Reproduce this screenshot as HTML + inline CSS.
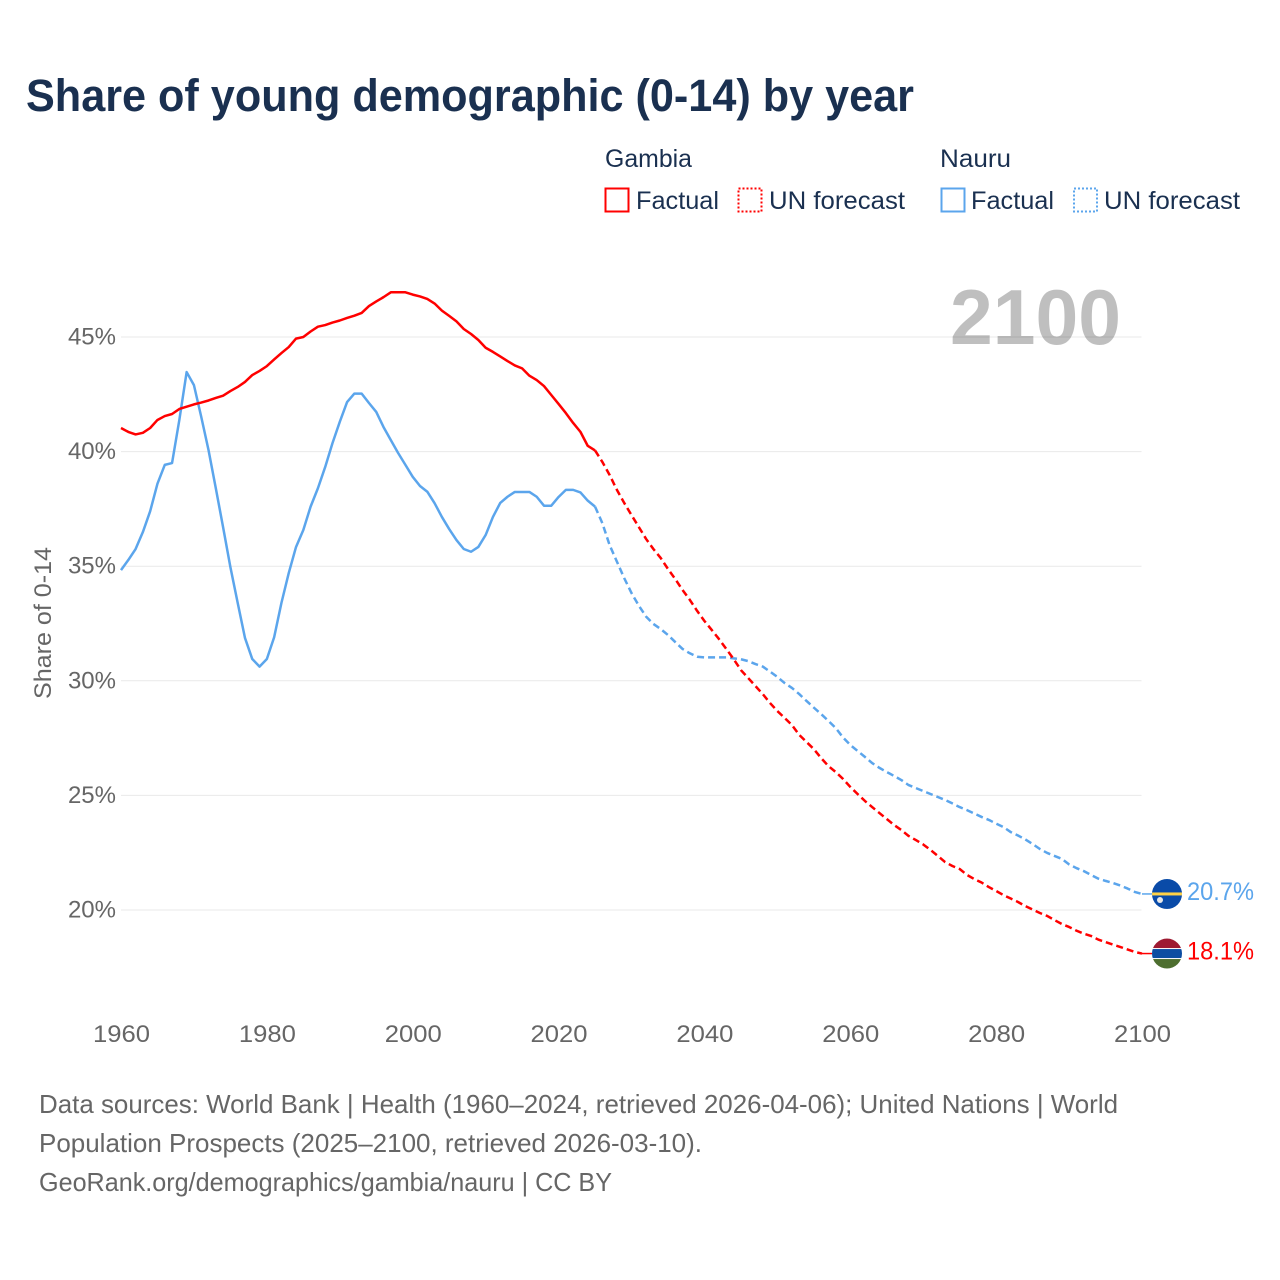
<!DOCTYPE html>
<html lang="en">
<head>
<meta charset="utf-8">
<title>Share of young demographic (0-14) by year</title>
<style>
html,body{margin:0;padding:0;background:#fff;}
svg{display:block;font-family:"Liberation Sans",sans-serif;}
</style>
</head>
<body>
<svg id="chart" width="1280" height="1280" viewBox="0 0 1280 1280" xmlns="http://www.w3.org/2000/svg">
  <rect x="0" y="0" width="1280" height="1280" fill="#fff"/>
  <text x="26" y="111" font-size="45" font-weight="700" fill="#1a3050" textLength="888" lengthAdjust="spacingAndGlyphs">Share of young demographic (0-14) by year</text>

  <g font-size="25" fill="#1a3050">
    <text x="605" y="167" textLength="87" lengthAdjust="spacingAndGlyphs">Gambia</text>
    <rect x="605.5" y="188.5" width="23" height="23" fill="none" stroke="#ff0000" stroke-width="2"/>
    <text x="636" y="209" textLength="83" lengthAdjust="spacingAndGlyphs">Factual</text>
    <rect x="738.5" y="188.5" width="23" height="23" fill="none" stroke="#ff0000" stroke-width="2" stroke-dasharray="2 2"/>
    <text x="769" y="209" textLength="136" lengthAdjust="spacingAndGlyphs">UN forecast</text>

    <text x="940" y="167" textLength="71" lengthAdjust="spacingAndGlyphs">Nauru</text>
    <rect x="941.5" y="188.5" width="23" height="23" fill="none" stroke="#5ba5ec" stroke-width="2"/>
    <text x="971" y="209" textLength="83" lengthAdjust="spacingAndGlyphs">Factual</text>
    <rect x="1074" y="188.5" width="23" height="23" fill="none" stroke="#5ba5ec" stroke-width="2" stroke-dasharray="2 2"/>
    <text x="1104" y="209" textLength="136" lengthAdjust="spacingAndGlyphs">UN forecast</text>
  </g>

  <g id="grid"></g>
  <g id="yticks" font-size="24" fill="#666"></g>
  <g id="xticks" font-size="24" fill="#666"></g>
  <text transform="translate(51,699) rotate(-90)" font-size="24" fill="#666" textLength="152" lengthAdjust="spacingAndGlyphs">Share of 0-14</text>

  <text x="950" y="344" font-size="78" font-weight="700" fill="#000" fill-opacity="0.25" textLength="171" lengthAdjust="spacingAndGlyphs">2100</text>

  <g id="series"></g>

  <g id="flag-nauru"></g>
  <g id="flag-gambia"></g>
  <g id="endlabels" font-size="25"></g>

  <g font-size="26" fill="#666">
    <text x="39" y="1113" textLength="1079" lengthAdjust="spacingAndGlyphs">Data sources: World Bank | Health (1960–2024, retrieved 2026-04-06); United Nations | World</text>
    <text x="39" y="1152" textLength="663" lengthAdjust="spacingAndGlyphs">Population Prospects (2025–2100, retrieved 2026-03-10).</text>
    <text x="39" y="1191" textLength="573" lengthAdjust="spacingAndGlyphs">GeoRank.org/demographics/gambia/nauru | CC BY</text>
  </g>
</svg>
<script>
const yTickValues = [20, 25, 30, 35, 40, 45];
const xTickYears = [1960, 1980, 2000, 2020, 2040, 2060, 2080, 2100];
const factualStartYear = 1960;
const forecastStartYear = 2025;

const gambiaFactual = [41.03,40.86,40.75,40.82,41.03,41.38,41.55,41.64,41.86,41.96,42.06,42.14,42.23,42.34,42.44,42.64,42.82,43.04,43.34,43.52,43.73,44.02,44.3,44.56,44.93,45.0,45.24,45.45,45.52,45.63,45.72,45.83,45.93,46.05,46.35,46.55,46.74,46.95,46.95,46.95,46.85,46.77,46.66,46.46,46.15,45.92,45.68,45.35,45.13,44.87,44.53,44.35,44.15,43.95,43.76,43.63,43.31,43.12,42.86,42.47,42.08,41.68,41.25,40.86,40.25,40.05];

const gambiaForecast = [40.05,39.55,38.98,38.33,37.76,37.23,36.71,36.19,35.75,35.36,34.88,34.44,33.96,33.53,33.05,32.61,32.22,31.82,31.39,30.95,30.47,30.12,29.77,29.42,29.03,28.68,28.38,28.07,27.64,27.33,27.02,26.63,26.28,26.02,25.72,25.37,25.06,24.76,24.49,24.23,23.97,23.71,23.49,23.23,23.05,22.86,22.62,22.36,22.09,21.92,21.79,21.53,21.35,21.2,21.0,20.83,20.65,20.5,20.35,20.17,20.02,19.87,19.74,19.56,19.39,19.26,19.1,18.97,18.87,18.71,18.6,18.49,18.39,18.28,18.17,18.1];

const nauruFactual = [34.83,35.27,35.75,36.49,37.4,38.6,39.42,39.5,41.38,43.47,42.9,41.52,40.07,38.4,36.7,34.96,33.4,31.87,30.95,30.62,30.95,31.9,33.4,34.7,35.84,36.58,37.6,38.4,39.33,40.37,41.3,42.16,42.53,42.53,42.12,41.73,41.07,40.5,39.94,39.42,38.9,38.5,38.25,37.75,37.15,36.62,36.14,35.75,35.63,35.84,36.36,37.15,37.76,38.03,38.24,38.24,38.24,38.03,37.64,37.64,38.02,38.33,38.33,38.22,37.86,37.6];

const nauruForecast = [37.6,36.88,35.92,35.2,34.48,33.83,33.28,32.8,32.48,32.26,32.0,31.69,31.39,31.2,31.05,31.02,31.02,31.02,31.02,30.98,30.94,30.86,30.73,30.62,30.4,30.17,29.9,29.69,29.42,29.12,28.83,28.55,28.25,27.94,27.53,27.2,26.94,26.68,26.41,26.2,26.02,25.85,25.67,25.45,25.32,25.19,25.06,24.93,24.8,24.65,24.49,24.36,24.21,24.06,23.93,23.77,23.62,23.4,23.25,23.08,22.88,22.66,22.49,22.36,22.23,21.99,21.83,21.7,21.53,21.37,21.27,21.18,21.07,20.94,20.79,20.7];

const SVG_NS = 'http://www.w3.org/2000/svg';
const RED = '#ff0000';
const BLUE = '#5ba5ec';
const FLAG_X = 1167;
const LINE_WIDTH = 2.5;

function xScale(year) { return 121 + (year - 1960) * (1142 - 121) / 140; }
function yScale(pct) { return 910 - (pct - 20) * (910 - 337) / 25; }
function make(tag, attrs, parent) {
  const el = document.createElementNS(SVG_NS, tag);
  for (const k in attrs) el.setAttribute(k, attrs[k]);
  parent.appendChild(el);
  return el;
}
function pathFrom(values, startYear) {
  return values.map(function (v, i) {
    return (i ? 'L' : 'M') + xScale(startYear + i).toFixed(2) + ' ' + yScale(v).toFixed(2);
  }).join(' ');
}

const gridGroup = document.getElementById('grid');
const yTickGroup = document.getElementById('yticks');
yTickValues.forEach(function (v) {
  const line = make('line', { x1: 121, x2: 1141.5, y1: yScale(v), y2: yScale(v), stroke: '#e9e9e9', 'stroke-width': 1 }, gridGroup);
  
  
  const t = make('text', { x: 116, y: yScale(v) + 7.5, 'text-anchor': 'end' }, yTickGroup);
  
  
  t.textContent = v + '%';
});

const xTickGroup = document.getElementById('xticks');
xTickYears.forEach(function (yr) {
  const t = make('text', { x: xScale(yr) + 0.5, y: 1042, 'text-anchor': 'middle', textLength: 57, lengthAdjust: 'spacingAndGlyphs' }, xTickGroup);
  
  
  t.textContent = String(yr);
});

const seriesGroup = document.getElementById('series');
const nauruForecastLine = make('path', { d: pathFrom(nauruForecast, forecastStartYear), fill: 'none', stroke: BLUE, 'stroke-width': LINE_WIDTH, 'stroke-dasharray': '7 4', 'stroke-linejoin': 'round' }, seriesGroup);


const nauruFactualLine = make('path', { d: pathFrom(nauruFactual, factualStartYear), fill: 'none', stroke: BLUE, 'stroke-width': LINE_WIDTH, 'stroke-linejoin': 'round' }, seriesGroup);


const gambiaForecastLine = make('path', { d: pathFrom(gambiaForecast, forecastStartYear), fill: 'none', stroke: RED, 'stroke-width': LINE_WIDTH, 'stroke-dasharray': '7 4', 'stroke-linejoin': 'round' }, seriesGroup);


const gambiaFactualLine = make('path', { d: pathFrom(gambiaFactual, factualStartYear), fill: 'none', stroke: RED, 'stroke-width': LINE_WIDTH, 'stroke-linejoin': 'round' }, seriesGroup);



const nauruLast = nauruForecast[nauruForecast.length - 1];
const gambiaLast = gambiaForecast[gambiaForecast.length - 1];
const nauruEndY = yScale(nauruLast);
const gambiaEndY = yScale(gambiaLast);

const nauruConnector = make('line', { x1: xScale(2100), x2: FLAG_X - 15, y1: nauruEndY, y2: nauruEndY, stroke: BLUE, 'stroke-width': 1.5 }, seriesGroup);


const gambiaConnector = make('line', { x1: xScale(2100), x2: FLAG_X - 15, y1: gambiaEndY, y2: gambiaEndY, stroke: RED, 'stroke-width': 1.5 }, seriesGroup);



/* Nauru flag */
const fn = document.getElementById('flag-nauru');
const clipDefs = make('defs', {}, fn);
const clipN = make('clipPath', { id: 'clip-nauru' }, clipDefs);
make('circle', { cx: FLAG_X, cy: nauruEndY, r: 15 }, clipN);
const clipG = make('clipPath', { id: 'clip-gambia' }, clipDefs);
make('circle', { cx: FLAG_X, cy: gambiaEndY, r: 15 }, clipG);
const fnInner = make('g', { 'clip-path': 'url(#clip-nauru)' }, fn);
make('rect', { x: FLAG_X - 15, y: nauruEndY - 15, width: 30, height: 30, fill: '#0a4ba8' }, fnInner);
make('rect', { x: FLAG_X - 15, y: nauruEndY - 1.5, width: 30, height: 3, fill: '#ffd246' }, fnInner);
make('circle', { cx: FLAG_X - 7, cy: nauruEndY + 6, r: 3, fill: '#e8e8e8' }, fnInner);

/* Gambia flag */
const fg = document.getElementById('flag-gambia');
const fgInner = make('g', { 'clip-path': 'url(#clip-gambia)' }, fg);
make('rect', { x: FLAG_X - 15, y: gambiaEndY - 15, width: 30, height: 30, fill: '#fff' }, fgInner);
make('rect', { x: FLAG_X - 15, y: gambiaEndY - 15, width: 30, height: 9.5, fill: '#9e1a32' }, fgInner);
make('rect', { x: FLAG_X - 15, y: gambiaEndY - 4.5, width: 30, height: 9, fill: '#0c4da2' }, fgInner);
make('rect', { x: FLAG_X - 15, y: gambiaEndY + 5.5, width: 30, height: 9.5, fill: '#4d6e2f' }, fgInner);

const endGroup = document.getElementById('endlabels');
const nauruLabel = make('text', { x: 1187, y: nauruEndY + 6, fill: BLUE, textLength: 67, lengthAdjust: 'spacingAndGlyphs' }, endGroup);


nauruLabel.textContent = nauruLast.toFixed(1) + '%';
const gambiaLabel = make('text', { x: 1187, y: gambiaEndY + 6, fill: RED, textLength: 67, lengthAdjust: 'spacingAndGlyphs' }, endGroup);


gambiaLabel.textContent = gambiaLast.toFixed(1) + '%';
</script>
</body>
</html>
